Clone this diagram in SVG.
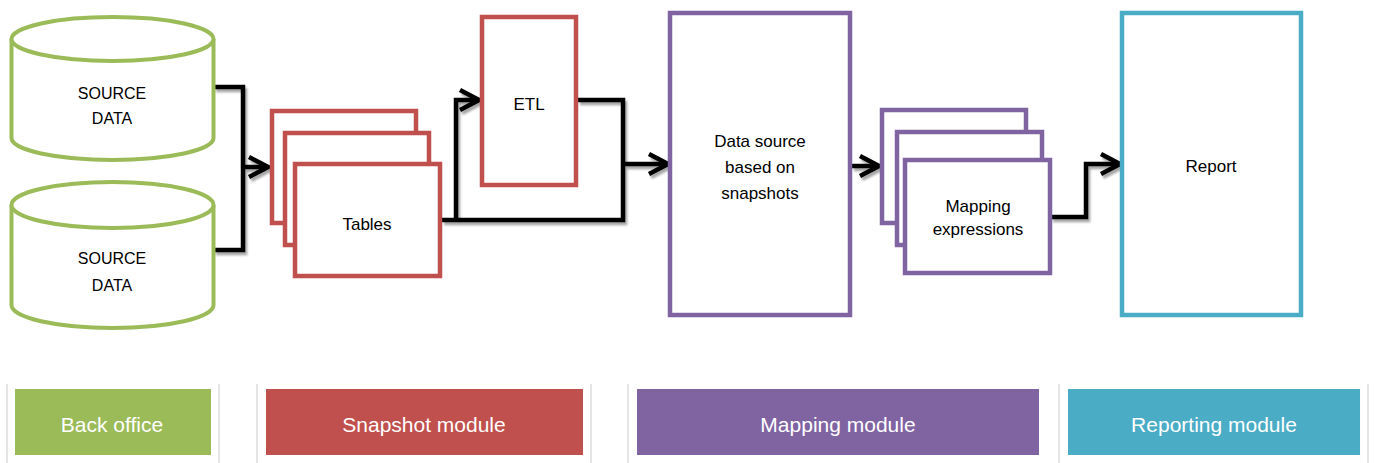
<svg xmlns="http://www.w3.org/2000/svg" width="1375" height="463" viewBox="0 0 1375 463">
<style>
text{font-family:"Liberation Sans",Arial,sans-serif;fill:#000;text-anchor:middle}
.t{font-size:17px}
.s{font-size:16px}
.lg{font-size:21px;fill:#fff}
.cyl{fill:#fff;stroke:#9BBB59;stroke-width:4}
.red{fill:#fff;stroke:#C0504D;stroke-width:4.5}
.pur{fill:#fff;stroke:#8064A2;stroke-width:4.5}
.blu{fill:#fff;stroke:#4BACC6;stroke-width:4.5}
.con{fill:none;stroke:#000;stroke-width:4.5;stroke-linejoin:miter}
.sep{stroke:#DDDDDD;stroke-width:1.5}
</style>
<defs>
<filter id="sh" x="-20%" y="-20%" width="140%" height="140%">
<feDropShadow dx="2" dy="3" stdDeviation="1.2" flood-color="#000" flood-opacity="0.35"/>
</filter>
<marker id="arr" markerUnits="userSpaceOnUse" viewBox="0 0 26 26" markerWidth="26" markerHeight="26" refX="22" refY="13" orient="auto">
<path d="M3,3 L22,13 L3,23" fill="none" stroke="#000" stroke-width="4.5"/>
</marker>
</defs>

<g id="legend-separators">
<line class="sep" x1="7" y1="384" x2="7" y2="463"/>
<line class="sep" x1="219" y1="384" x2="219" y2="463"/>
<line class="sep" x1="257" y1="384" x2="257" y2="463"/>
<line class="sep" x1="591" y1="384" x2="591" y2="463"/>
<line class="sep" x1="628" y1="384" x2="628" y2="463"/>
<line class="sep" x1="1059" y1="384" x2="1059" y2="463"/>
<line class="sep" x1="1368" y1="384" x2="1368" y2="463"/>
</g>

<g id="connectors" filter="url(#sh)">
<path class="con" d="M214,87 H243 V250 H214"/>
<path class="con" d="M243,167 H268" marker-end="url(#arr)"/>
<path class="con" d="M442,220 H623 V100 H578"/>
<path class="con" d="M456,220 V100 H479" marker-end="url(#arr)"/>
<path class="con" d="M623,164 H668" marker-end="url(#arr)"/>
<path class="con" d="M852,166 H879" marker-end="url(#arr)"/>
<path class="con" d="M1051,217 H1086 V164 H1120" marker-end="url(#arr)"/>
</g>

<g id="source1">
<path class="cyl" d="M11.5,39 A101,22 0 0,1 213.5,39 V138 A101,22 0 0,1 11.5,138 Z"/>
<path class="cyl" fill="none" d="M11.5,39 A101,22 0 0,0 213.5,39"/>
<text class="s" x="112" y="99">SOURCE</text>
<text class="s" x="112" y="124">DATA</text>
</g>

<g id="source2">
<path class="cyl" d="M11.5,205 A101,23 0 0,1 213.5,205 V305 A101,23 0 0,1 11.5,305 Z"/>
<path class="cyl" fill="none" d="M11.5,205 A101,23 0 0,0 213.5,205"/>
<text class="s" x="112" y="264">SOURCE</text>
<text class="s" x="112" y="291">DATA</text>
</g>

<g id="tables">
<rect class="red" x="272" y="111" width="144" height="112"/>
<rect class="red" x="285" y="133" width="144" height="112"/>
<rect class="red" x="295" y="164" width="145" height="112"/>
<text class="t" x="367" y="230">Tables</text>
</g>

<g id="etl">
<rect class="red" x="482" y="17" width="94" height="168"/>
<text class="t" x="529" y="110">ETL</text>
</g>

<g id="datasource">
<rect class="pur" x="670" y="13" width="180" height="302"/>
<text class="t" x="760" y="147">Data source</text>
<text class="t" x="760" y="173">based on</text>
<text class="t" x="760" y="199">snapshots</text>
</g>

<g id="mapping">
<rect class="pur" x="882" y="110" width="144" height="113"/>
<rect class="pur" x="897" y="132" width="145" height="113"/>
<rect class="pur" x="905" y="160" width="145" height="113"/>
<text class="t" x="978" y="212">Mapping</text>
<text class="t" x="978" y="235">expressions</text>
</g>

<g id="report">
<rect class="blu" x="1122" y="13" width="179" height="302"/>
<text class="t" x="1211" y="172">Report</text>
</g>

<g id="legend-backoffice">
<rect x="15" y="389" width="196" height="66" fill="#9BBB59"/>
<text class="lg" x="112" y="432">Back office</text>
</g>
<g id="legend-snapshot">
<rect x="266" y="389" width="317" height="66" fill="#C0504D"/>
<text class="lg" x="424" y="432">Snapshot module</text>
</g>
<g id="legend-mapping">
<rect x="637" y="389" width="402" height="66" fill="#8064A2"/>
<text class="lg" x="838" y="432">Mapping module</text>
</g>
<g id="legend-reporting">
<rect x="1068" y="389" width="292" height="66" fill="#4BACC6"/>
<text class="lg" x="1214" y="432">Reporting module</text>
</g>
</svg>
